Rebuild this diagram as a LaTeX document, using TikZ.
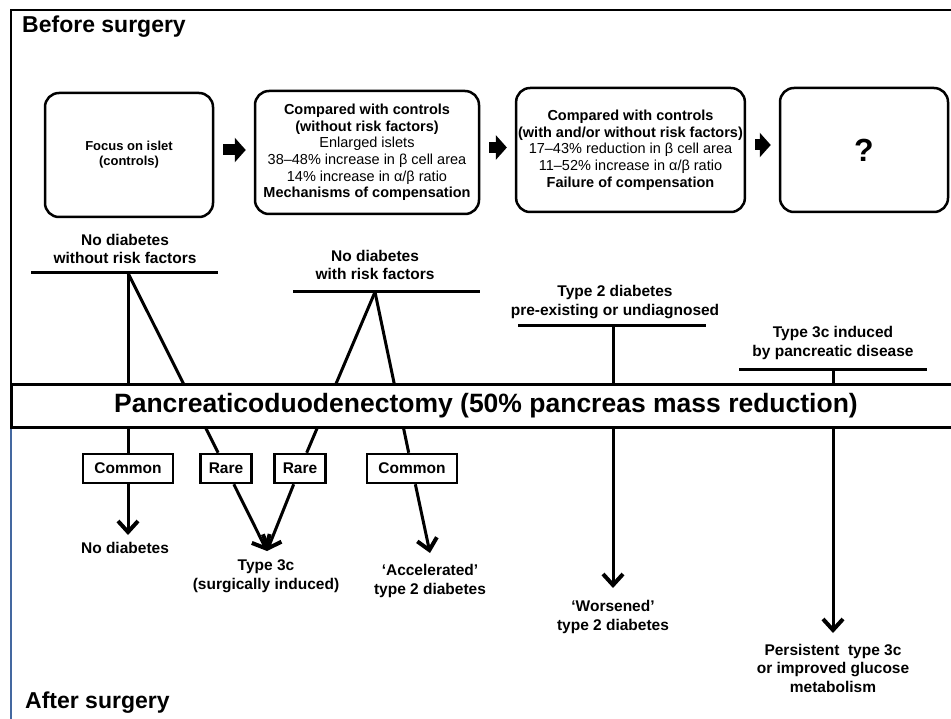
\documentclass[tikz,border=0pt]{standalone}
\usepackage{fontspec}
\setmainfont{Liberation Sans}
\usetikzlibrary{arrows.meta,backgrounds,positioning}

\definecolor{frameblue}{RGB}{68,104,160}

\tikzset{
  stagebox/.style={draw,rounded corners=14pt,line width=2.5pt,fill=white,align=center,inner sep=2pt,
    font=\bfseries\fontsize{14.5}{16.7}\selectfont},
  tagbox/.style={draw,line width=2.5pt,fill=white,minimum height=29pt,inner sep=0pt,
    font=\bfseries\fontsize{15.5}{18}\selectfont},
  grouplabel/.style={align=center,inner sep=0pt,font=\bfseries\fontsize{15.5}{18.5}\selectfont},
  title/.style={anchor=west,inner sep=0pt,font=\bfseries\fontsize{23}{26}\selectfont},
  branch/.style={line width=3pt},
  outcomearrow/.style={line width=3pt,-{Straight Barb[length=11pt,width=20pt,line width=4pt]}},
  blockarrow/.style={line width=11pt,-{Triangle[length=11pt,width=24pt]},shorten <=9pt,shorten >=8pt},
}

\begin{document}
\begin{tikzpicture}[x=1pt,y=-1pt]
  \useasboundingbox (0,0) rectangle (951,719);
  % frame
  \draw[line width=2pt] (11,427) -- (11,10) -- (960,10);
  \draw[frameblue,line width=2pt] (11,427) -- (11,719);
  \node[title] (before) at (22,27) {Before surgery};
  \node[title] (after) at (25,703) {After surgery};

  % islet stages
  \node[stagebox,minimum width=168pt,minimum height=124pt,font=\bfseries\fontsize{13}{15}\selectfont] (islet) at (129,155) {Focus on islet\\(controls)};
  \node[stagebox,minimum width=224pt,minimum height=123pt] (compens) at (367,152.5) {Compared with controls\\(without risk factors)\\\mdseries Enlarged islets\\\mdseries 38–48\% increase in β cell area\\\mdseries 14\% increase in α/β ratio\\Mechanisms of compensation};
  \node[stagebox,minimum width=227pt,minimum height=124pt] (failure) at (630.5,150) {Compared with controls\\(with and/or without risk factors)\\\mdseries 17–43\% reduction in β cell area\\\mdseries 11–52\% increase in α/β ratio\\Failure of compensation};
  \node[stagebox,minimum width=168pt,minimum height=124pt,font=\bfseries\fontsize{32}{36}\selectfont] (unknown) at (864,150) {?};
  \draw[blockarrow] ([yshift=5pt]islet.east) -- ([yshift=5pt]islet.east -| compens.west);
  \draw[blockarrow] ([yshift=5pt]compens.east) -- ([yshift=5pt]compens.east -| failure.west);
  \draw[blockarrow] ([yshift=5pt]failure.east) -- ([yshift=5pt]failure.east -| unknown.west);

  % groups before surgery
  \coordinate (ndw) at (128,273);
  \coordinate (ndr) at (375,292);
  \coordinate (t2d) at (613,326);
  \coordinate (t3d) at (833,370);
  \node[grouplabel] (ndwlab) at (125,249) {No diabetes\\without risk factors};
  \node[grouplabel] (ndrlab) at (375,265) {No diabetes\\with risk factors};
  \node[grouplabel] (t2dlab) at (615,302) {Type 2 diabetes\\pre-existing or undiagnosed};
  \node[grouplabel] (t3dlab) at (833,343) {Type 3c induced\\by pancreatic disease};
  \draw[branch] (ndw) ++(-97,0) -- ++(187,0);
  \draw[branch] (ndr) ++(-82,0) -- ++(187,0);
  \draw[branch] (t2d) ++(-95,0) -- ++(188,0);
  \draw[branch] (t3d) ++(-94,0) -- ++(188,0);

  % surgery
  \node[draw,line width=3pt,fill=white,minimum width=950pt,minimum height=42pt,
    font=\bfseries\fontsize{26.5}{30}\selectfont] (pd) at (486,406) {Pancreaticoduodenectomy (50\% pancreas mass reduction)};

  \node[tagbox,minimum width=90pt] (common1) at (128,468.5) {Common};
  \node[tagbox,minimum width=51pt] (rare1) at (226,468.5) {Rare};
  \node[tagbox,minimum width=51pt] (rare2) at (300,468.5) {Rare};
  \node[tagbox,minimum width=90pt] (common2) at (412,468.5) {Common};

  % outcomes after surgery
  \coordinate (ndtip) at (128,535);
  \coordinate (t3ctip) at (267,551);
  \coordinate (acctip) at (430,553);
  \coordinate (wortip) at (613,588);
  \coordinate (pertip) at (833,633);
  \node[grouplabel] (nodiab) at (125,548) {No diabetes};
  \node[grouplabel] (surgical) at (266,576) {Type 3c\\(surgically induced)};
  \node[grouplabel] (accel) at (430,581) {‘Accelerated’\\type 2 diabetes};
  \node[grouplabel] (worse) at (613,617) {‘Worsened’\\type 2 diabetes};
  \node[grouplabel] (persist) at (833,668) {Persistent~ type 3c\\or improved glucose\\metabolism};

  \begin{pgfonlayer}{background}
    \draw[branch] (ndw) -- (common1);
    \draw[branch] (ndw) -- (rare1);
    \draw[branch] (ndr) -- (rare2);
    \draw[branch] (ndr) -- (common2);
    \draw[outcomearrow] (t2d) -- (wortip);
    \draw[outcomearrow] (t3d) -- (pertip);
  \end{pgfonlayer}
  \draw[outcomearrow] (common1) -- (ndtip);
  \draw[outcomearrow] (rare1) -- (t3ctip);
  \draw[outcomearrow] (rare2) -- (t3ctip);
  \draw[outcomearrow] (common2) -- (acctip);
\end{tikzpicture}
\end{document}
